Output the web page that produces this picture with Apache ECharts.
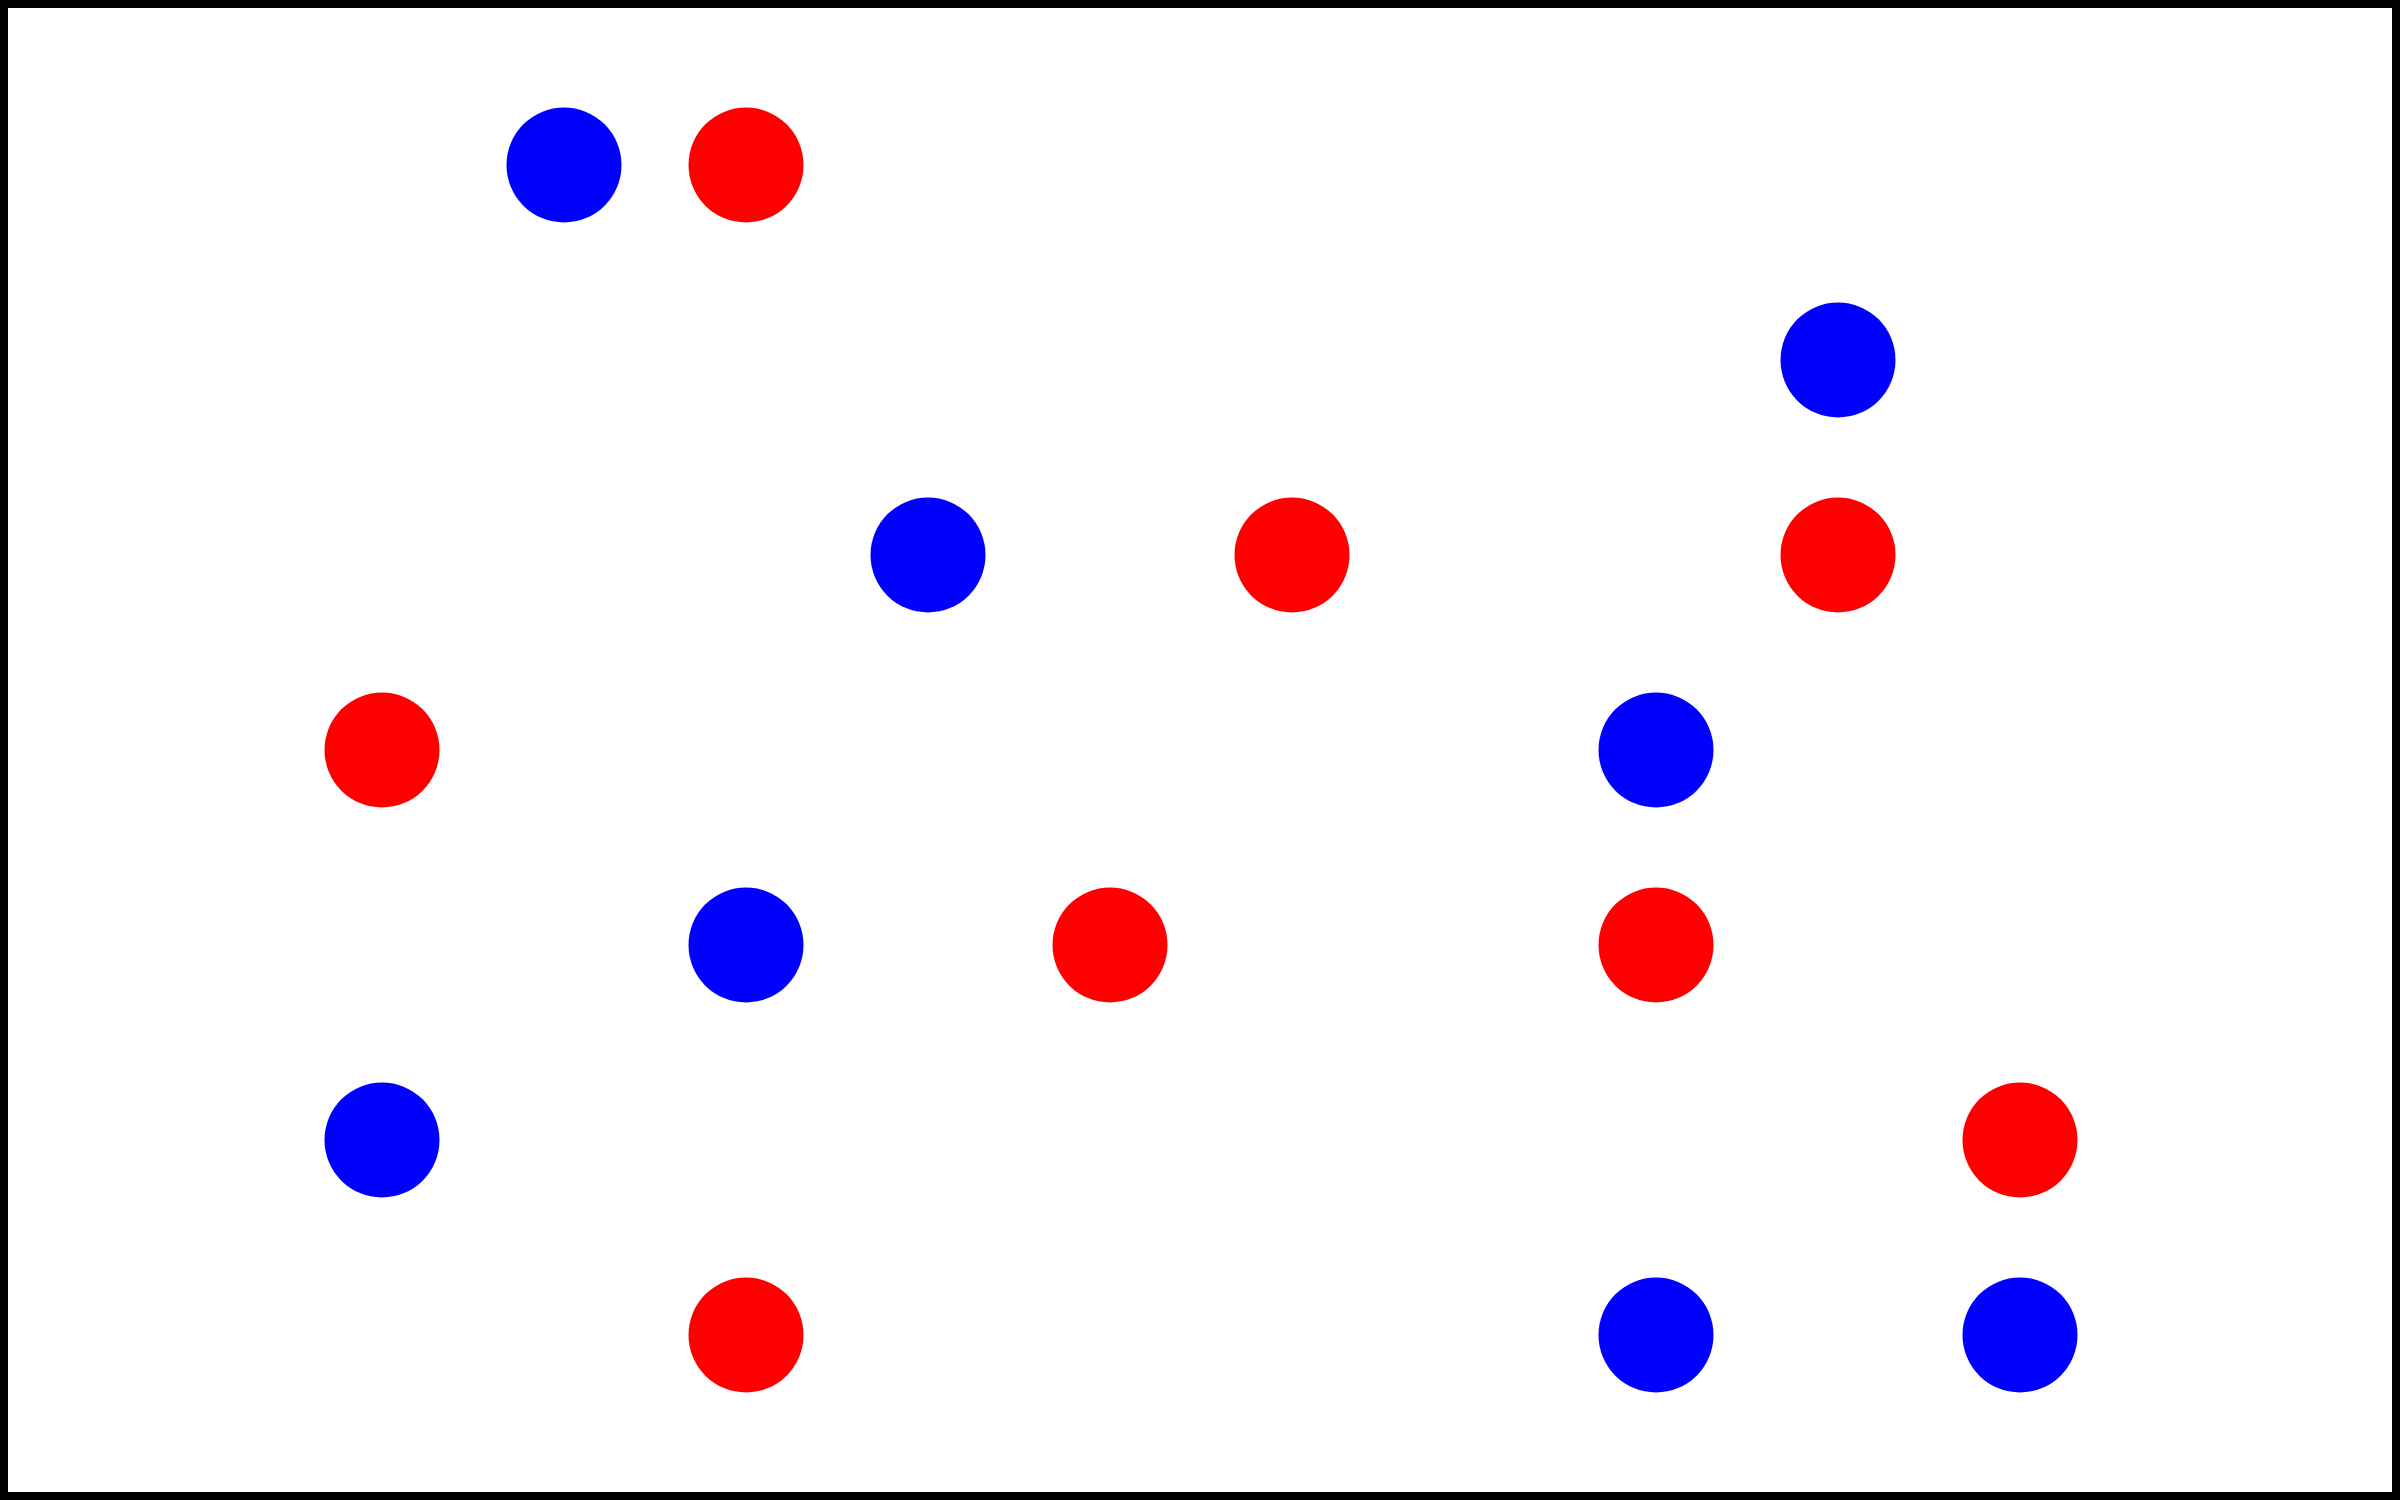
<!DOCTYPE html>
<html>
<head>
<meta charset="utf-8">
<script src="https://cdn.jsdelivr.net/npm/echarts@6/dist/echarts.min.js"></script>
<style>
html,body{margin:0;padding:0;background:#fff;}
#chart{width:2400px;height:1500px;}
</style>
</head>
<body>
<div id="chart"></div>
<script>
// Data (x = column index, y = row index from bottom)
const blueX = [1, 8, 3, 7, 2, 0, 7, 9];
const blueY = [6, 5, 4, 3, 2, 1, 0, 0];
const redX  = [2, 5, 8, 0, 4, 7, 9, 2];
const redY  = [6, 4, 4, 3, 2, 2, 1, 0];

const blueData = blueX.map((x, i) => [x, blueY[i]]);
const redData  = redX.map((x, i) => [x, redY[i]]);

const chart = echarts.init(document.getElementById('chart'));
chart.setOption({
  backgroundColor: '#ffffff',
  animation: false,
  grid: { left: 382, right: 198, top: 165, bottom: 165 },
  xAxis: { type: 'value', min: 0, max: 10, show: false, splitLine: { show: false } },
  yAxis: { type: 'value', min: 0, max: 6, show: false, splitLine: { show: false } },
  graphic: [{
    type: 'rect',
    shape: { x: 4, y: 4, width: 2392, height: 1492 },
    style: { fill: 'none', stroke: '#000', lineWidth: 8 },
    z: 100
  }],
  series: [
    { name: 'blue', type: 'scatter', data: blueData, symbolSize: 115,
      itemStyle: { color: '#0000ff', opacity: 1 } },
    { name: 'red', type: 'scatter', data: redData, symbolSize: 115,
      itemStyle: { color: '#ff0000', opacity: 1 } }
  ]
});
</script>
</body>
</html>
